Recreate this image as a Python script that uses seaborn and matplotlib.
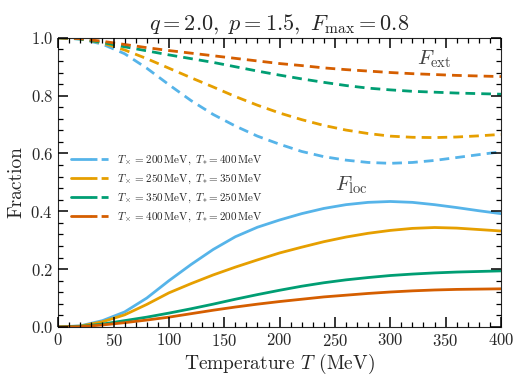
import numpy as np
import pandas as pd
import matplotlib.pyplot as plt
import seaborn as sns
from matplotlib.legend_handler import HandlerTuple
from matplotlib.lines import Line2D
from matplotlib.ticker import MultipleLocator

# temperature grid (MeV)
temps = [0, 20, 40, 60, 80, 100, 120, 140, 160, 180, 200, 220, 240, 260, 280, 300, 320, 340, 360, 380, 400]

# local fraction (solid) and external fraction (dashed)
loc_200 = [0, 0.004, 0.022, 0.052, 0.100, 0.160, 0.216, 0.268, 0.312, 0.345, 0.370,
           0.392, 0.410, 0.423, 0.431, 0.434, 0.431, 0.423, 0.413, 0.402, 0.392]
ext_200 = [1.0, 0.996, 0.978, 0.945, 0.895, 0.838, 0.783, 0.735, 0.695, 0.660, 0.632,
           0.607, 0.589, 0.577, 0.569, 0.566, 0.569, 0.576, 0.586, 0.596, 0.606]

loc_250 = [0, 0.003, 0.018, 0.042, 0.078, 0.118, 0.150, 0.180, 0.207, 0.232, 0.256,
           0.276, 0.295, 0.311, 0.324, 0.334, 0.341, 0.344, 0.342, 0.337, 0.332]
ext_250 = [1.0, 0.997, 0.982, 0.958, 0.928, 0.895, 0.862, 0.830, 0.797, 0.767, 0.740,
           0.717, 0.697, 0.681, 0.669, 0.660, 0.656, 0.655, 0.657, 0.661, 0.666]

loc_350 = [0, 0.002, 0.010, 0.022, 0.034, 0.048, 0.063, 0.079, 0.096, 0.112, 0.127,
           0.141, 0.153, 0.163, 0.171, 0.178, 0.183, 0.187, 0.190, 0.192, 0.194]
ext_350 = [1.0, 0.996, 0.984, 0.969, 0.955, 0.941, 0.928, 0.915, 0.900, 0.885, 0.871,
           0.858, 0.846, 0.835, 0.826, 0.820, 0.815, 0.812, 0.809, 0.807, 0.805]

loc_400 = [0, 0.001, 0.007, 0.015, 0.024, 0.034, 0.046, 0.058, 0.069, 0.079, 0.088,
           0.096, 0.104, 0.110, 0.116, 0.121, 0.125, 0.128, 0.130, 0.131, 0.132]
ext_400 = [1.0, 0.997, 0.988, 0.977, 0.966, 0.956, 0.947, 0.938, 0.929, 0.920, 0.911,
           0.904, 0.896, 0.890, 0.885, 0.880, 0.876, 0.873, 0.870, 0.868, 0.866]

labels = [
    r"$T_\times = 200\,\mathrm{MeV},\ T_{*} = 400\,\mathrm{MeV}$",
    r"$T_\times = 250\,\mathrm{MeV},\ T_{*} = 350\,\mathrm{MeV}$",
    r"$T_\times = 350\,\mathrm{MeV},\ T_{*} = 250\,\mathrm{MeV}$",
    r"$T_\times = 400\,\mathrm{MeV},\ T_{*} = 200\,\mathrm{MeV}$",
]
colors = ["#56B4E9", "#E69F00", "#009E73", "#D55E00"]
loc_all = [loc_200, loc_250, loc_350, loc_400]
ext_all = [ext_200, ext_250, ext_350, ext_400]

sns.set_style("ticks")
plt.rcParams["font.family"] = ["cmr10", "DejaVu Serif"]
plt.rcParams["mathtext.fontset"] = "cm"
plt.rcParams["axes.formatter.use_mathtext"] = True
plt.rcParams["axes.axisbelow"] = False

fig = plt.figure(figsize=(5.29, 3.82), dpi=100)
ax = fig.add_axes([0.110, 0.144, 0.837, 0.757])

# long table: one row per (curve, kind, T)
rows = []
for lab, loc, ext in zip(labels, loc_all, ext_all):
    for t, a, b in zip(temps, loc, ext):
        rows.append({"T": t, "F": a, "curve": lab, "kind": "loc"})
        rows.append({"T": t, "F": b, "curve": lab, "kind": "ext"})
df = pd.DataFrame(rows)

sns.lineplot(data=df, x="T", y="F", hue="curve", style="kind", palette=colors,
             hue_order=labels, style_order=["loc", "ext"],
             dashes={"loc": "", "ext": (3.5, 2.2)}, lw=2, legend=False, ax=ax)

handles = []
for col in colors:
    h1 = Line2D([], [], color=col, lw=2)
    h2 = Line2D([], [], color=col, lw=2, linestyle=(0, (2.5, 1.5)))
    handles.append((h1, h2))

ax.set_xlim(0, 400)
ax.set_ylim(0, 1.0)
ax.xaxis.set_major_locator(MultipleLocator(50))
ax.xaxis.set_minor_locator(MultipleLocator(10))
ax.yaxis.set_major_locator(MultipleLocator(0.2))
ax.yaxis.set_minor_locator(MultipleLocator(0.04))

ax.set_xlabel(r"Temperature $T$ (MeV)", fontsize=14, labelpad=2)
ax.set_ylabel("Fraction", fontsize=14, labelpad=4)
ax.set_title(r"$q = 2.0,\ p = 1.5,\ F_{\max} = 0.8$", fontsize=16, pad=6)

ax.text(340, 0.925, r"$F_{\rm ext}$", fontsize=15, color="#444444", ha="center", va="center")
ax.text(265, 0.49, r"$F_{\rm loc}$", fontsize=15, color="#444444", ha="center", va="center")

ax.legend(handles, labels, handler_map={tuple: HandlerTuple(ndivide=None, pad=0)},
          loc="upper left", bbox_to_anchor=(0.012, 0.625), frameon=False, fontsize=8,
          handlelength=3.4, handletextpad=0.7, labelspacing=0.5, borderaxespad=0.3)

# ticks inside on all four sides
ax.set_axisbelow(False)
ax.tick_params(which="both", direction="in", top=True, right=True, bottom=True, left=True,
               color="black", labelsize=12)
ax.tick_params(which="major", length=7, width=1.1)
ax.tick_params(which="minor", length=3.5, width=0.9)
ax.xaxis.set_zorder(5)
ax.yaxis.set_zorder(5)

fig.canvas.draw()
for axis in (ax.xaxis, ax.yaxis):
    for t in axis.get_major_ticks() + axis.get_minor_ticks():
        for ln in (t.tick1line, t.tick2line):
            ln.set_visible(True)
            ln.set_clip_on(False)
            ln.set_zorder(5)

fig.savefig("out.png", dpi=100)
